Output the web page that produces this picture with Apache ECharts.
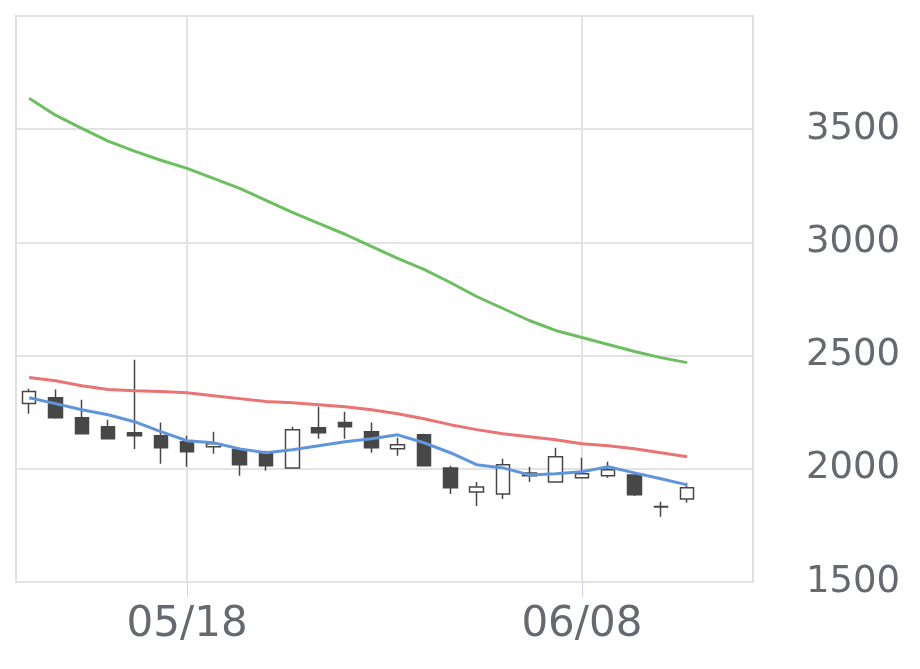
<!DOCTYPE html>
<html>
<head>
<meta charset="utf-8">
<script src="https://cdn.jsdelivr.net/npm/echarts@6/dist/echarts.min.js"></script>
<style>
    html, body { margin: 0; padding: 0; background: #fff; }
    #chart { width: 920px; height: 669px; }
</style>
</head>
<body>
<div id="chart"></div>
<script>
'use strict';

// 日付（最後の2つは空き）
var dates = [
    "05/08", "05/11", "05/12", "05/13", "05/14", "05/15", "05/18", "05/19", "05/20", "05/21",
    "05/22", "05/25", "05/26", "05/27", "05/28", "05/29", "06/01", "06/02", "06/03", "06/04",
    "06/05", "06/08", "06/09", "06/10", "06/11", "06/12", "06/15", "06/16"
];
var labelIdx = [6, 21];

var opens  = [2288, 2314, 2226, 2186, 2159, 2146, 2119, 2097, 2084, 2066, 2004, 2181, 2204, 2164, 2089, 2150, 2004, 1898, 1889, 1969, 1942, 1960, 1969, 1973, 1834, 1867];
var closes = [2341, 2226, 2155, 2133, 2146, 2093, 2075, 2111, 2018, 2013, 2173, 2159, 2186, 2093, 2106, 2013, 1916, 1920, 2018, 1982, 2053, 1978, 1996, 1885, 1831, 1916];
var lows   = [2243, 2221, 2155, 2133, 2088, 2022, 2009, 2066, 1969, 1991, 2004, 2133, 2133, 2071, 2058, 2013, 1889, 1836, 1867, 1942, 1942, 1960, 1960, 1880, 1788, 1850];
var highs  = [2354, 2350, 2305, 2217, 2482, 2204, 2146, 2164, 2093, 2080, 2186, 2274, 2252, 2204, 2137, 2155, 2013, 1942, 2044, 2009, 2093, 2049, 2031, 1973, 1854, 1938];

var maShort = [2314, 2288, 2261, 2239, 2208, 2164, 2124, 2115, 2088, 2071, 2084, 2102, 2119, 2133, 2150, 2115, 2071, 2018, 2004, 1973, 1978, 1987, 2009, 1982, 1956, 1929];
var maMid   = [2403, 2389, 2367, 2350, 2345, 2341, 2336, 2323, 2310, 2297, 2292, 2283, 2274, 2261, 2243, 2221, 2195, 2173, 2155, 2142, 2128, 2111, 2102, 2089, 2071, 2053];
var maLong  = [3637, 3562, 3504, 3447, 3403, 3363, 3327, 3283, 3239, 3186, 3133, 3084, 3036, 2982, 2929, 2881, 2823, 2761, 2708, 2655, 2611, 2580, 2549, 2518, 2491, 2469];

var yMin = 1500, yMax = 4000, yStep = 500;

var candles = opens.map(function(o, i) {
    return [o, closes[i], lows[i], highs[i]];
});

function showAt(idx) {
    return labelIdx.indexOf(idx) !== -1;
}

function maLine(data, color) {
    return {
        type: "line",
        data: data,
        symbol: "none",
        smooth: false,
        lineStyle: { color: color, width: 3 },
        z: 3
    };
}

var chart = echarts.init(document.getElementById("chart"));
var option = {
    animation: false,
    backgroundColor: "#fff",
    grid: {
        left: 16,
        top: 16,
        right: 167,
        bottom: 87,
        show: true,
        borderColor: "#e0e0e0",
        borderWidth: 2
    },
    xAxis: {
        type: "category",
        data: dates,
        boundaryGap: true,
        axisLine: { show: false },
        axisTick: {
            show: true,
            alignWithLabel: true,
            interval: function(idx) { return showAt(idx); },
            length: 15,
            lineStyle: { color: "#ccd6eb", width: 1 }
        },
        axisLabel: {
            interval: function(idx) { return showAt(idx); },
            fontFamily: "DejaVu Sans",
            fontSize: 42,
            color: "#666a70",
            margin: 22
        },
        splitLine: {
            show: true,
            alignWithLabel: true,
            interval: function(idx) { return showAt(idx); },
            lineStyle: { color: "#e3e3e3", width: 2 }
        }
    },
    yAxis: {
        type: "value",
        position: "right",
        min: yMin,
        max: yMax,
        interval: yStep,
        axisLine: { show: false },
        axisTick: { show: false },
        axisLabel: {
            showMaxLabel: false,
            formatter: function(v) { return String(v); },
            fontFamily: "DejaVu Sans",
            fontSize: 37,
            color: "#666a70",
            margin: 53
        },
        splitLine: { lineStyle: { color: "#e3e3e3", width: 2 } }
    },
    series: [
        {
            type: "candlestick",
            data: candles,
            barWidth: 14,
            itemStyle: {
                color: "#ffffff",
                color0: "#474747",
                borderColor: "#474747",
                borderColor0: "#474747",
                borderWidth: 1.5
            },
            z: 2
        },
        maLine(maLong, "#6cbf5f"),
        maLine(maMid, "#ea7373"),
        maLine(maShort, "#5f95db")
    ]
};
chart.setOption(option);
</script>
</body>
</html>
